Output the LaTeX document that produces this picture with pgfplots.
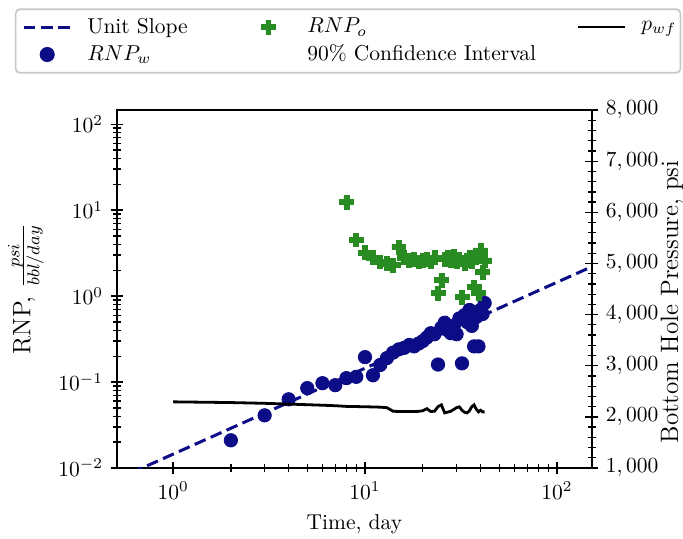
\documentclass[border=0pt]{standalone}
\usepackage{pgfplots}
\pgfplotsset{compat=1.18}
\definecolor{rnpw}{RGB}{12,12,135}
\definecolor{rnpo}{RGB}{40,140,35}
\pgfplotsset{
  linelegend/.style={legend image code/.code={\path (0pt,0pt) (22pt,0pt); \draw[##1] (0pt,0pt) -- (22pt,0pt);}},
  marklegend/.style={legend image code/.code={\path (0pt,0pt) (22pt,0pt); \draw[##1] plot coordinates {(11pt,0pt)};}},
  emptylegend/.style={legend image code/.code={\path (0pt,0pt) (22pt,0pt);}},
}
\pgfdeclareplotmark{fatplus}{%
  \pgfpathmoveto{\pgfqpoint{-0.36\pgfplotmarksize}{\pgfplotmarksize}}%
  \pgfpathlineto{\pgfqpoint{0.36\pgfplotmarksize}{\pgfplotmarksize}}%
  \pgfpathlineto{\pgfqpoint{0.36\pgfplotmarksize}{0.36\pgfplotmarksize}}%
  \pgfpathlineto{\pgfqpoint{\pgfplotmarksize}{0.36\pgfplotmarksize}}%
  \pgfpathlineto{\pgfqpoint{\pgfplotmarksize}{-0.36\pgfplotmarksize}}%
  \pgfpathlineto{\pgfqpoint{0.36\pgfplotmarksize}{-0.36\pgfplotmarksize}}%
  \pgfpathlineto{\pgfqpoint{0.36\pgfplotmarksize}{-\pgfplotmarksize}}%
  \pgfpathlineto{\pgfqpoint{-0.36\pgfplotmarksize}{-\pgfplotmarksize}}%
  \pgfpathlineto{\pgfqpoint{-0.36\pgfplotmarksize}{-0.36\pgfplotmarksize}}%
  \pgfpathlineto{\pgfqpoint{-\pgfplotmarksize}{-0.36\pgfplotmarksize}}%
  \pgfpathlineto{\pgfqpoint{-\pgfplotmarksize}{0.36\pgfplotmarksize}}%
  \pgfpathlineto{\pgfqpoint{-0.36\pgfplotmarksize}{0.36\pgfplotmarksize}}%
  \pgfpathclose
  \pgfusepathqfillstroke
}
\pgfplotstableread{
x y
2 0.021
3 0.041
4 0.063
5 0.085
6 0.097
7 0.092
8 0.111
9 0.115
10 0.195
11 0.12
12 0.158
13 0.19
14 0.22
15 0.24
16 0.25
17 0.27
18 0.26
19 0.28
20 0.30
21 0.33
22 0.37
23 0.36
24 0.16
25 0.43
26 0.49
27 0.40
28 0.37
29 0.45
30 0.36
31 0.55
32 0.165
33 0.60
34 0.50
35 0.69
36 0.45
37 0.26
38 0.57
39 0.26
40 0.69
41 0.62
42 0.83
}\rnpwdata
\pgfplotstableread{
x y
8 12.4
9 4.5
10 3.2
11 2.8
12 2.5
13 2.4
14 2.3
15 3.7
16 2.8
17 2.6
18 2.7
19 2.5
20 2.6
21 2.7
22 2.5
23 2.8
24 1.08
25 1.53
26 2.7
27 2.8
28 2.6
29 2.9
30 2.5
31 2.7
32 0.97
33 2.4
34 2.6
35 2.8
36 2.5
37 1.27
38 2.9
39 1.08
40 3.4
41 1.9
42 2.6
}\rnpodata
\pgfplotstableread{
x y
1 2294
2 2280
3 2265
4 2250
5 2238
6 2228
7 2218
8 2205
10 2198
12 2190
13 2180
14 2110
15 2105
17 2105
19 2108
20 2120
21 2160
22 2105
23 2110
24 2200
25 2235
26 2078
28 2110
30 2180
31 2196
32 2130
33 2090
34 2078
35 2120
36 2200
37 2235
38 2150
39 2098
40 2130
41 2098
42 2098
}\pwfdata
\begin{document}
\begin{tikzpicture}
\useasboundingbox (-54.4pt,-32.6pt) rectangle (263.3pt,217.7pt);
\begin{axis}[
  at={(0,0)}, anchor=south west,
  scale only axis, width=220.9pt, height=166.5pt,
  xmode=log, ymode=log,
  xmin=0.51, xmax=152, ymin=0.01, ymax=146,
  xtick={1,10,100}, ytick={0.01,0.1,1,10,100},
  xtick pos=bottom, ytick pos=left,
  tick align=center, major tick length=6pt, minor tick length=3.5pt,
  every tick/.style={black, line width=0.6pt},
  axis line style={line width=0.8pt},
  xlabel={Time, day},
  ylabel={RNP, $\frac{psi}{bbl/day}$},
  ylabel style={font=\fontsize{11.7}{14}\selectfont},
  clip=true,
]
\addplot[rnpw, line width=1.4pt, dash pattern=on 5.5pt off 2.6pt] coordinates {(0.5,0.00725) (152,2.2)};
\addplot[only marks, mark=*, mark size=3.1pt, color=rnpw, fill=rnpw] table[x=x,y=y] {\rnpwdata};
\addplot[only marks, mark=fatplus, mark size=3.2pt, color=rnpo, fill=rnpo, line width=0.3pt] table[x=x,y=y] {\rnpodata};
\end{axis}
\begin{axis}[
  at={(0,0)}, anchor=south west,
  scale only axis, width=220.9pt, height=166.5pt,
  xmode=log, xmin=0.51, xmax=152,
  axis x line=none, axis y line*=right,
  ymin=1000, ymax=8000, ytick={1000,2000,...,8000}, minor y tick num=4,
  scaled y ticks=false,
  yticklabel style={/pgf/number format/.cd, 1000 sep={,}},
  tick align=center, major tick length=6pt, minor tick length=3.5pt,
  every tick/.style={black, line width=0.6pt},
  axis line style={line width=0.8pt},
  ylabel={Bottom Hole Pressure, psi},
  every axis y label/.style={at={(rel axis cs:1,0.464)}, xshift=28.5pt, rotate=90, anchor=north, font=\fontsize{11.7}{14}\selectfont},
  legend columns=3,
  legend cell align=left,
  legend style={at={(-0.2152,1.284)}, anchor=north west, draw=black!22, line width=0.8pt, rounded corners=2pt, /tikz/every even column/.append style={column sep=0pt}},
]
\addlegendimage{rnpw, line width=1.4pt, dash pattern=on 5.5pt off 2.6pt, linelegend}
\addlegendentry{\hspace*{5pt}\makebox[71pt][l]{Unit Slope}}
\addlegendimage{only marks, mark=fatplus, mark size=3.2pt, color=rnpo, fill=rnpo, line width=0.3pt, marklegend}
\addlegendentry{\hspace*{5pt}\makebox[123.1pt][l]{$RNP_o$}}
\addplot[black, line width=1.3pt, linelegend] table[x=x,y=y] {\pwfdata};
\addlegendentry{\hspace*{5pt}$p_{wf}$\hspace*{-3pt}}
\addlegendimage{only marks, mark=*, mark size=3.1pt, color=rnpw, fill=rnpw, marklegend}
\addlegendentry{\hspace*{5pt}$RNP_w$}
\addlegendimage{draw=none, fill=none, emptylegend}
\addlegendentry{\hspace*{5pt}90\% Confidence Interval}
\end{axis}
\end{tikzpicture}
\end{document}
